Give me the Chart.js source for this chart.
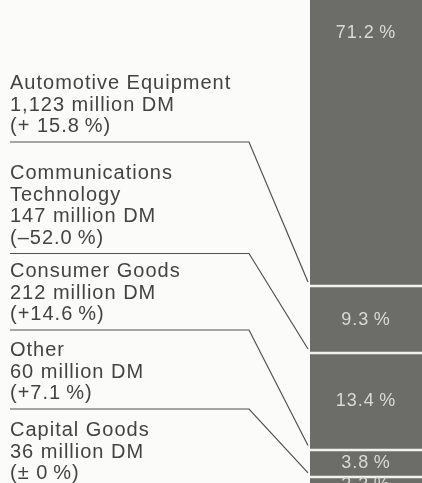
<!DOCTYPE html>
<html>
<head>
<meta charset="utf-8">
<title>Sales by Division</title>
<script src="https://cdn.jsdelivr.net/npm/chart.js@4"></script>
<style>
  html, body { margin: 0; padding: 0; background: #fbfbf9; }
  #wrap { position: relative; width: 422px; height: 483px; overflow: hidden; }
</style>
</head>
<body>
<div id="wrap"><canvas id="chart"></canvas></div>
<script>
// Division sales, share of total and change vs. prior year
const divisions = ['Automotive Equipment', 'Communications Technology', 'Consumer Goods', 'Other', 'Capital Goods'];
const nameLines = [['Automotive Equipment'], ['Communications', 'Technology'], ['Consumer Goods'], ['Other'], ['Capital Goods']];
const salesMillionDM = [1123, 147, 212, 60, 36];
const salesLabels = ['1,123 million DM', '147 million DM', '212 million DM', '60 million DM', '36 million DM'];
const changeLabels = ['(+ 15.8\u2009%)', '(\u201352.0\u2009%)', '(+14.6\u2009%)', '(+7.1\u2009%)', '(\u00b1 0\u2009%)'];
const sharePercent = [71.2, 9.3, 13.4, 3.8, 2.3];
const shareLabels = ['71.2\u2009%', '9.3\u2009%', '13.4\u2009%', '3.8\u2009%', '2.3\u2009%'];

// layout of the caption column
const BAR_LEFT = 310;
const TEXT_X = 10;
const RULE_END_X = 249;
const LINE_H = 21.5;
const firstBaselines = [89, 179, 277, 356, 436];
const TEXT_FONT = '20px "Liberation Sans", Arial, sans-serif';
const BAR_COLOR = '#6c6d69';

const captionPlugin = {
  id: 'captions',
  afterDatasetsDraw(chart) {
    const ctx = chart.ctx;
    const y = chart.scales.y;
    const area = chart.chartArea;
    // cumulative boundaries of the stacked segments
    const ends = [];
    let acc = 0;
    sharePercent.forEach(v => { acc += v; ends.push(acc); });

    ctx.save();
    // separators between segments
    ctx.strokeStyle = '#f1f1ee';
    ctx.lineWidth = 2.5;
    for (let i = 0; i < ends.length - 1; i++) {
      const py = Math.round(y.getPixelForValue(ends[i]));
      ctx.beginPath();
      ctx.moveTo(area.left, py);
      ctx.lineTo(area.right, py);
      ctx.stroke();
    }

    // share labels inside the bar
    ctx.fillStyle = '#dadad5';
    ctx.font = '18px "Liberation Sans", Arial, sans-serif';
    ctx.letterSpacing = '1px';
    ctx.textAlign = 'center';
    ctx.textBaseline = 'middle';
    const cx = (area.left + area.right) / 2;
    sharePercent.forEach((v, i) => {
      const start = ends[i] - v;
      let py = y.getPixelForValue(start + v / 2);
      if (y.getPixelForValue(start) < area.top) py = area.top + 33;
      ctx.fillText(shareLabels[i], cx, py);
    });

    // captions at the left, each with a rule leading to its segment
    ctx.fillStyle = '#434341';
    ctx.font = TEXT_FONT;
    ctx.letterSpacing = '1px';
    ctx.textAlign = 'left';
    ctx.textBaseline = 'alphabetic';
    ctx.strokeStyle = '#50504e';
    ctx.lineWidth = 1.2;
    divisions.forEach((d, i) => {
      const lines = nameLines[i].concat([salesLabels[i], changeLabels[i]]);
      const by = firstBaselines[i];
      lines.forEach((t, k) => ctx.fillText(t, TEXT_X, by + k * LINE_H));
      if (i < divisions.length - 1) {
        const ruleY = by + (lines.length - 1) * LINE_H + 10;
        const target = y.getPixelForValue(ends[i]) - 4;
        ctx.beginPath();
        ctx.moveTo(TEXT_X, ruleY);
        ctx.lineTo(RULE_END_X, ruleY);
        ctx.lineTo(area.left - 2, target);
        ctx.stroke();
      }
    });
    ctx.restore();
  }
};

const datasets = divisions.map((d, i) => ({
  label: d,
  data: [sharePercent[i]],
  backgroundColor: BAR_COLOR,
  borderWidth: 0,
  barPercentage: 1,
  categoryPercentage: 1
}));

new Chart(document.getElementById('chart'), {
  type: 'bar',
  data: { labels: ['Sales'], datasets },
  options: {
    responsive: true,
    maintainAspectRatio: false,
    animation: false,
    layout: { padding: { left: BAR_LEFT, right: 0, top: 0, bottom: 0 } },
    plugins: { legend: { display: false }, tooltip: { enabled: false } },
    scales: {
      x: { display: false, stacked: true },
      y: { display: false, stacked: true, reverse: true, min: 31.47, max: 98.55 }
    }
  },
  plugins: [captionPlugin]
});
</script>
</body>
</html>
